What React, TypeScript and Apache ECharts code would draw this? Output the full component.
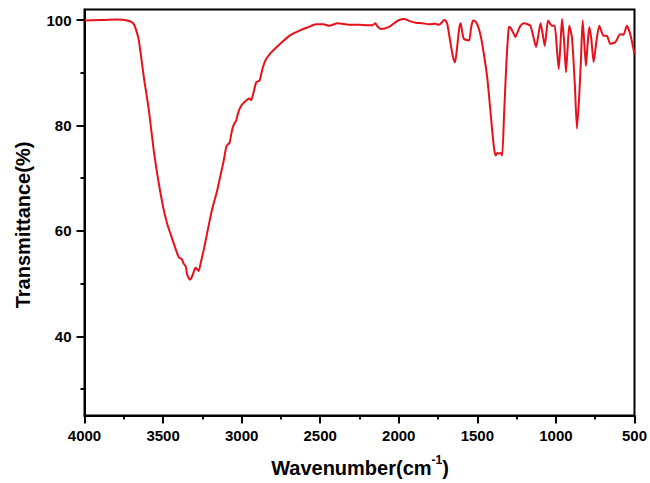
import React, { useEffect, useRef } from "react";
import * as echarts from "echarts";

const wavenumbers: number[] = [
  4000, 3900, 3800, 3760, 3730, 3700, 3686, 3670, 3654, 3622, 3590, 3559, 3527, 3495, 3470, 3453, 3425, 3400,
  3380, 3369, 3355, 3348, 3335, 3326, 3310, 3294, 3285, 3273, 3260, 3242, 3220, 3199, 3180, 3157, 3135, 3115,
  3098, 3088, 3077, 3065, 3056, 3045, 3034, 3020, 3002, 2980, 2960, 2950, 2939, 2920, 2907, 2895, 2886, 2865,
  2844, 2810, 2780, 2740, 2696, 2660, 2632, 2580, 2526, 2480, 2442, 2389, 2315, 2250, 2200, 2167, 2150, 2135,
  2114, 2061, 2030, 1998, 1966, 1930, 1892, 1850, 1807, 1770, 1744, 1725, 1712, 1700, 1691, 1670, 1655, 1642,
  1630, 1615, 1606, 1595, 1585, 1553, 1540, 1528, 1515, 1501, 1485, 1469, 1437, 1410, 1395, 1384, 1373, 1363,
  1352, 1342, 1330, 1315, 1300, 1293, 1275, 1257, 1240, 1226, 1204, 1180, 1162, 1145, 1126, 1110, 1098, 1085,
  1071, 1060, 1050, 1035, 1025, 1008, 995, 982, 970, 961, 948, 936, 925, 915, 898, 880, 866, 851, 840, 830,
  820, 809, 798, 788, 775, 760, 740, 724, 710, 697, 676, 654, 622, 591, 570, 549, 527, 500,
];

const transmittance: number[] = [
  99.9, 100.0, 100.1, 100.05, 99.9, 99.6, 99.2, 98.0, 96.1, 89.1, 82.8, 75.2, 69.0, 63.9, 61.0, 59.5, 57.0, 55.0,
  54.6, 53.8, 53.2, 51.9, 51.0, 50.8, 51.8, 53.0, 52.8, 52.4, 54.0, 56.3, 59.5, 62.6, 65.0, 67.5, 70.5, 73.2,
  75.9, 76.4, 76.7, 78.5, 79.7, 80.4, 81.0, 82.6, 83.8, 84.5, 85.0, 85.1, 84.8, 86.8, 88.2, 88.4, 88.5, 91.0,
  92.6, 93.9, 94.8, 95.9, 97.0, 97.6, 98.0, 98.6, 99.2, 99.2, 98.9, 99.4, 99.1, 99.1, 99.0, 99.0, 99.4, 98.8,
  98.3, 98.7, 99.4, 100.0, 100.2, 99.8, 99.5, 99.4, 99.2, 99.3, 99.1, 99.6, 100.0, 99.8, 99.2, 95.5, 93.0, 92.0,
  94.5, 98.5, 99.4, 97.5, 96.4, 96.1, 98.5, 99.9, 99.8, 99.2, 97.8, 95.5, 89.1, 80.5, 76.0, 74.3, 74.8, 74.7,
  74.8, 74.3, 82.0, 92.0, 98.6, 98.7, 97.8, 96.8, 98.0, 98.9, 99.4, 99.2, 98.9, 97.0, 94.9, 97.5, 99.4, 97.5,
  95.1, 97.8, 99.9, 99.2, 98.9, 98.9, 95.0, 90.7, 96.0, 100.2, 96.0, 90.1, 95.0, 98.9, 96.7, 88.0, 79.4, 86.0, 93.0, 99.9,
  96.0, 91.3, 95.5, 98.7, 96.5, 92.0, 96.5, 98.9, 97.8, 97.0, 97.0, 95.5, 95.8, 97.3, 97.2, 98.9, 97.3, 93.6,
];

const yMajorTicks: number[] = [40, 60, 80, 100];
const yMinorTicks: number[] = [30, 50, 70, 90];
const xTitle = "Wavenumber(cm";
const xTitleSup = "-1";
const yTitle = "Transmittance(%)";

const FONT = '"Liberation Sans", Arial, sans-serif';

export default function App() {
  const ref = useRef<HTMLDivElement>(null);
  useEffect(() => {
    if (!ref.current) return;
    const chart = echarts.init(ref.current, null, { renderer: "svg" });
    const data = wavenumbers.map((w, i) => [w, transmittance[i]]);
    chart.setOption({
      animation: false,
      backgroundColor: "#ffffff",
      grid: {
        left: 84.5,
        right: 14,
        top: 9.5,
        bottom: 67.5,
        show: true,
        borderColor: "#000",
        borderWidth: 2,
        backgroundColor: "transparent",
      },
      xAxis: {
        type: "value",
        min: 500,
        max: 4000,
        interval: 500,
        inverse: true,
        axisLine: { show: true, lineStyle: { color: "#000", width: 2 } },
        axisTick: { show: true, length: 8, lineStyle: { color: "#000", width: 2 } },
        minorTick: { show: true, splitNumber: 2, length: 4, lineStyle: { color: "#000", width: 2 } },
        splitLine: { show: false },
        minorSplitLine: { show: false },
        axisLabel: {
          color: "#000",
          fontFamily: FONT,
          fontWeight: "bold",
          fontSize: 15,
          margin: 12,
          formatter: (v: number) => String(v),
        },
      },
      yAxis: [
        {
          type: "value",
          min: 25,
          max: 102,
          axisLine: { show: true, lineStyle: { color: "#000", width: 2 } },
          axisTick: { show: true, length: 8, customValues: yMajorTicks, lineStyle: { color: "#000", width: 2 } },
          splitLine: { show: false },
          axisLabel: {
            customValues: yMajorTicks,
            color: "#000",
            fontFamily: FONT,
            fontWeight: "bold",
            fontSize: 15,
            margin: 13,
            formatter: (v: number) => String(v),
          },
        },
        {
          type: "value",
          min: 25,
          max: 102,
          position: "left",
          offset: 0,
          axisLine: { show: false },
          axisTick: { show: true, length: 4, customValues: yMinorTicks, lineStyle: { color: "#000", width: 2 } },
          splitLine: { show: false },
          axisLabel: { show: false },
        },
      ],
      graphic: [
        {
          type: "text",
          x: 23,
          y: 225,
          rotation: Math.PI / 2,
          style: {
            text: yTitle,
            fill: "#000",
            font: `bold 20px ${FONT}`,
            align: "center",
            verticalAlign: "middle",
          },
        },
        {
          type: "text",
          x: 360,
          y: 466,
          style: {
            text: `{m|${xTitle}}{s|${xTitleSup}}{m|)}`,
            align: "center",
            verticalAlign: "middle",
            rich: {
              m: { fontFamily: FONT, fontWeight: "bold", fontSize: 20, fill: "#000", lineHeight: 24, verticalAlign: "bottom" },
              s: { fontFamily: FONT, fontWeight: "bold", fontSize: 12, fill: "#000", lineHeight: 24, verticalAlign: "top" },
            },
          },
        },
      ],
      series: [
        {
          type: "line",
          data,
          xAxisIndex: 0,
          yAxisIndex: 0,
          showSymbol: false,
          smooth: 0.2,
          lineStyle: { color: "#e8101a", width: 2 },
        },
      ],
    });
    return () => chart.dispose();
  }, []);
  return <div ref={ref} style={{ position: "fixed", left: 0, top: 0, width: 650, height: 483 }} />;
}
